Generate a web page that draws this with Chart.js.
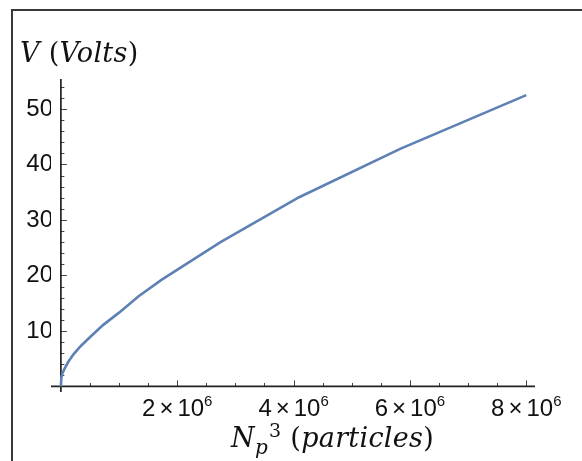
<!DOCTYPE html>
<html lang="en">
<head>
    <meta charset="UTF-8">
    <title>V vs Np^3</title>
    <script src="https://cdn.jsdelivr.net/npm/chart.js@4.4.0/dist/chart.umd.min.js"></script>
    <style>
        body {
            margin: 0;
            background: white;
            overflow: hidden;
        }
        .wrap {
            position: relative;
            width: 582px;
            height: 461px;
        }
        #frame {
            position: absolute;
            left: 11px;
            top: 9px;
            width: 700px;
            height: 600px;
            border: 2px solid #383838;
        }
        .title {
            position: absolute;
            font-family: 'DejaVu Serif', serif;
            font-size: 27px;
            line-height: 27px;
            color: #111;
            white-space: nowrap;
        }
        #ytitle { left: 20px; top: 39px; letter-spacing: 0.3px; }
        #xtitle { left: 231px; top: 424px; letter-spacing: 0.3px; }
        .sub { font-size: 20px; position: relative; top: 7px; }
        .sup { font-size: 19px; position: relative; top: -10px; margin-left: 1px; }
    </style>
</head>
<body>
    <div class="wrap">
        <canvas id="chart" width="582" height="461"></canvas>
        <div id="frame"></div>
        <div class="title" id="ytitle"><i>V</i> (<i>Volts</i>)</div>
        <div class="title" id="xtitle"><i>N</i><span class="sub"><i>p</i></span><span class="sup">3</span> (<i>particles</i>)</div>
    </div>

    <script>
        // data
        const npCubed = [0, 8000, 27000, 64000, 125000, 216000, 343000, 512000, 729000, 1000000, 1331000, 1728000, 2744000, 4096000, 5832000, 8000000];
        const volts = [0, 1.6, 2.4, 3.2, 4.4, 5.8, 7.3, 9.0, 11.1, 13.3, 16.2, 19.2, 26.0, 34.1, 42.8, 52.5];

        const yTickValues = [10, 20, 30, 40, 50];
        const xTickValues = [2000000, 4000000, 6000000, 8000000];
        const xTickMantissa = ['2', '4', '6', '8'];
        const xTickExponent = '6';

        const xMinorStep = 500000;
        const yMinorStep = 2;

        // mathematica style axes: crossing at the origin, ticks pointing inward
        const axesPlugin = {
            id: 'axes',
            beforeDatasetsDraw(chart) {
                const { ctx, chartArea, scales } = chart;
                const x0 = scales.x.getPixelForValue(0);
                const y0 = scales.y.getPixelForValue(0);
                ctx.save();
                ctx.strokeStyle = '#444';
                ctx.lineWidth = 1;
                for (let v = xMinorStep; v <= scales.x.max; v += xMinorStep) {
                    const px = Math.round(scales.x.getPixelForValue(v)) + 0.5;
                    const len = xTickValues.includes(v) ? 6 : 3.5;
                    ctx.beginPath();
                    ctx.moveTo(px, y0);
                    ctx.lineTo(px, y0 - len);
                    ctx.stroke();
                }
                for (let v = yMinorStep; v <= scales.y.max; v += yMinorStep) {
                    const py = Math.round(scales.y.getPixelForValue(v)) + 0.5;
                    const len = yTickValues.includes(v) ? 6 : 3.5;
                    ctx.beginPath();
                    ctx.moveTo(x0, py);
                    ctx.lineTo(x0 + len, py);
                    ctx.stroke();
                }
                ctx.strokeStyle = '#222';
                ctx.lineWidth = 1.7;
                ctx.beginPath();
                ctx.moveTo(chartArea.left, y0);
                ctx.lineTo(chartArea.right, y0);
                ctx.moveTo(x0, chartArea.top);
                ctx.lineTo(x0, chartArea.bottom);
                ctx.stroke();

                // x tick labels like 2×10^6
                ctx.fillStyle = '#111';
                ctx.textBaseline = 'alphabetic';
                ctx.textAlign = 'left';
                const mainFont = "24px 'Liberation Sans', Arial, sans-serif";
                const supFont = "15px 'Liberation Sans', Arial, sans-serif";
                xTickValues.forEach((v, i) => {
                    ctx.font = mainFont;
                    const wm = ctx.measureText(xTickMantissa[i]).width;
                    const wx = ctx.measureText('×').width;
                    const wt = ctx.measureText('10').width;
                    ctx.font = supFont;
                    const ws = ctx.measureText(xTickExponent).width;
                    const gap = 4;
                    const total = wm + gap + wx + gap + wt + ws;
                    let px = scales.x.getPixelForValue(v) - total / 2;
                    const base = 416;
                    ctx.font = mainFont;
                    ctx.fillText(xTickMantissa[i], px, base);
                    px += wm + gap;
                    ctx.fillText('×', px, base);
                    px += wx + gap;
                    ctx.fillText('10', px, base);
                    px += wt;
                    ctx.font = supFont;
                    ctx.fillText(xTickExponent, px, base - 10);
                });
                ctx.restore();
            }
        };

        const ctx = document.getElementById('chart').getContext('2d');
        new Chart(ctx, {
            type: 'scatter',
            data: {
                datasets: [{
                    data: npCubed.map((x, i) => ({ x: x, y: volts[i] })),
                    showLine: true,
                    borderColor: '#5e81b5',
                    borderWidth: 2.6,
                    pointRadius: 0,
                    tension: 0,
                    fill: false
                }]
            },
            options: {
                responsive: false,
                animation: false,
                layout: { padding: { left: 0, top: 79, right: 47, bottom: 0 } },
                plugins: {
                    legend: { display: false },
                    tooltip: { enabled: false }
                },
                scales: {
                    x: {
                        type: 'linear',
                        min: -170000,
                        max: 8150000,
                        grid: { display: false },
                        border: { display: false },
                        ticks: { display: false },
                        afterFit: s => { s.height = 69; }
                    },
                    y: {
                        type: 'linear',
                        min: -1,
                        max: 55.4,
                        grid: { display: false, drawTicks: false },
                        border: { display: false },
                        afterBuildTicks: s => { s.ticks = yTickValues.map(v => ({ value: v })); },
                        afterFit: s => { s.width = 51; },
                        ticks: {
                            padding: -2,
                            color: '#111',
                            font: { family: "'Liberation Sans', Arial, sans-serif", size: 24 }
                        }
                    }
                }
            },
            plugins: [axesPlugin]
        });
    </script>
</body>
</html>
